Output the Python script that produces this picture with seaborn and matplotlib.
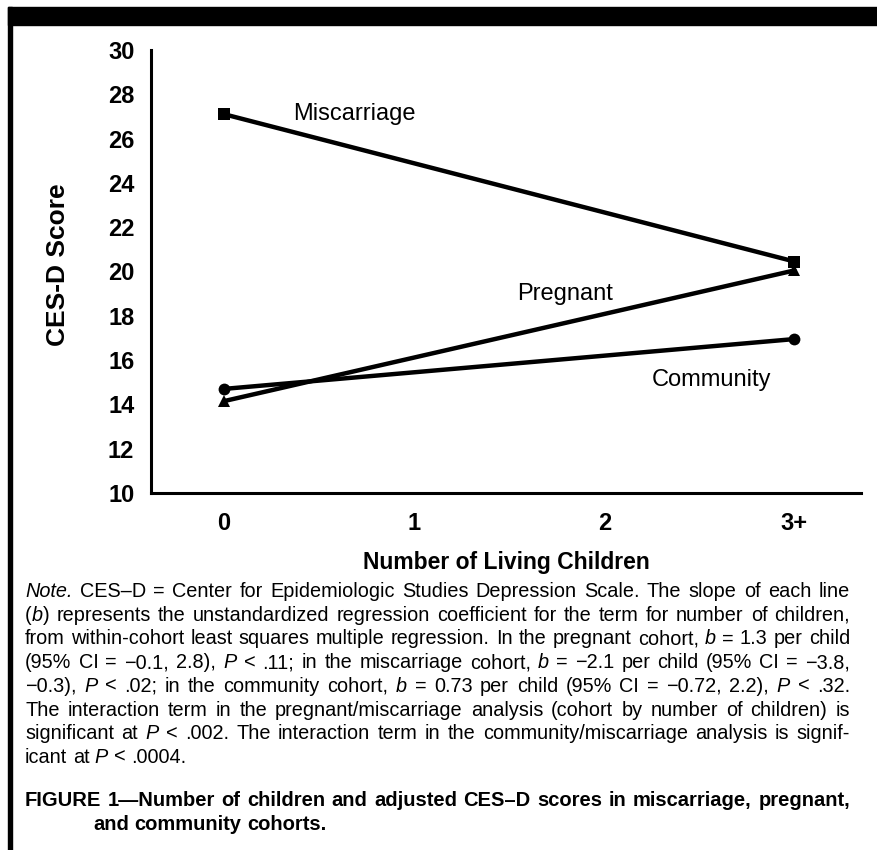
import matplotlib
matplotlib.use("Agg")
import matplotlib.pyplot as plt
from matplotlib import font_manager
from matplotlib.patches import Rectangle
import pandas as pd
import seaborn as sns

# ---- data -------------------------------------------------------------
cohorts = ["Miscarriage", "Pregnant", "Community"]
children_pos = [0, 3]                      # 0 children and "3+" children
tick_positions = [0, 1, 2, 3]
tick_labels = ["0", "1", "2", "3+"]
miscarriage_scores = [27.1, 20.45]
pregnant_scores = [14.15, 20.05]
community_scores = [14.7, 16.95]
y_ticks = [10, 12, 14, 16, 18, 20, 22, 24, 26, 28, 30]

rows = []
for name, vals in zip(cohorts, [miscarriage_scores, pregnant_scores, community_scores]):
    for x, v in zip(children_pos, vals):
        rows.append({"cohort": name, "children": x, "score": v})
df = pd.DataFrame(rows)

# ---- figure -----------------------------------------------------------
W, H = 877, 850
sns.set_theme(style="white")
plt.rcParams["font.family"] = ["Liberation Sans", "DejaVu Sans"]
plt.rcParams["text.color"] = "black"
plt.rcParams["axes.labelcolor"] = "black"
plt.rcParams["xtick.color"] = "black"
plt.rcParams["ytick.color"] = "black"

# condensed face for the note block, if present
narrow = "Liberation Sans"
try:
    font_manager.findfont(font_manager.FontProperties(family="Liberation Sans Narrow"),
                          fallback_to_default=False)
    narrow = "Liberation Sans Narrow"
except Exception:
    pass
note_family = [narrow, "DejaVu Sans"]

fig = plt.figure(figsize=(W / 100, H / 100), dpi=100)
fig.patch.set_facecolor("white")


def fx(px):
    return px / W


def fy(py):
    return 1 - py / H


# page frame: heavy rule on top, thin rule down the left side
fig.patches.append(Rectangle((fx(8), fy(25)), fx(W - 8), (25 - 7) / H,
                             transform=fig.transFigure, color="black", zorder=0))
fig.patches.append(Rectangle((fx(8), 0), fx(4), fy(7),
                             transform=fig.transFigure, color="black", zorder=0))

ax_l, ax_r, ax_t, ax_b = 151, 861, 50, 493
ax = fig.add_axes([fx(ax_l), fy(ax_b), fx(ax_r - ax_l), (ax_b - ax_t) / H])

sns.lineplot(data=df, x="children", y="score", hue="cohort", style="cohort",
             palette={c: "black" for c in cohorts},
             markers={"Miscarriage": "s", "Pregnant": "^", "Community": "o"},
             dashes=False, linewidth=3.2, markersize=8.5, markeredgewidth=0,
             legend=False, ax=ax)

ax.set_xlim(-0.385, 3.35)
ax.set_ylim(10, 30)
ax.set_xticks(tick_positions, tick_labels, fontweight="bold", fontsize=17)
ax.set_yticks(y_ticks, [str(t) for t in y_ticks], fontweight="bold", fontsize=17)
for side in ["top", "right"]:
    ax.spines[side].set_visible(False)
for side in ["left", "bottom"]:
    ax.spines[side].set_linewidth(2.2)
    ax.spines[side].set_color("black")
ax.tick_params(axis="both", direction="out", length=5, width=2, color="black",
               labelcolor="black")
ax.tick_params(axis="y", pad=7)
ax.tick_params(axis="x", pad=9)
ax.set_facecolor("white")

ax.set_xlabel("Number of Living Children", fontweight="bold", fontsize=16.5)
ax.set_ylabel("CES-D Score", fontweight="bold", fontsize=19)
ax.xaxis.set_label_coords(0.5, -(563 - ax_b) / (ax_b - ax_t))
ax.xaxis.label.set_va("center")
ax.yaxis.set_label_coords((58 - ax_l) / (ax_r - ax_l), (ax_b - 265) / (ax_b - ax_t))
ax.yaxis.label.set_va("center")

# series names written beside their lines
ax.text(0.684, 27.11, "Miscarriage", fontsize=17, ha="center", va="center")
ax.text(1.795, 18.98, "Pregnant", fontsize=17, ha="center", va="center")
ax.text(2.563, 15.1, "Community", fontsize=17, ha="center", va="center")

# ---- note and caption, set as justified paragraphs -----------------------
N, I = "normal", "italic"
note_lines = [
    [("Note.", I), (" CES\u2013D = Center for Epidemiologic Studies Depression Scale. The slope of each line", N)],
    [("(", N), ("b", I), (") represents the unstandardized regression coefficient for the term for number of children,", N)],
    [("from within-cohort least squares multiple regression. In the pregnant cohort, ", N), ("b", I), (" = 1.3 per child", N)],
    [("(95% CI = \u22120.1, 2.8), ", N), ("P", I), (" < .11; in the miscarriage cohort, ", N), ("b", I),
     (" = \u22122.1 per child (95% CI = \u22123.8,", N)],
    [("\u22120.3), ", N), ("P", I), (" < .02; in the community cohort, ", N), ("b", I),
     (" = 0.73 per child (95% CI = \u22120.72, 2.2), ", N), ("P", I), (" < .32.", N)],
    [("The interaction term in the pregnant/miscarriage analysis (cohort by number of children) is", N)],
    [("significant at ", N), ("P", I), (" < .002. The interaction term in the community/miscarriage analysis is signif-", N)],
    [("icant at ", N), ("P", I), (" < .0004.", N)],
]
caption_lines = [
    [("FIGURE 1\u2014Number of children and adjusted CES\u2013D scores in miscarriage, pregnant,", N)],
    [("and community cohorts.", N)],
]

renderer = fig.canvas.get_renderer()
text_left, text_right = 25, 850


def words_of(segments):
    words = [[]]
    for text, style in segments:
        parts = text.split(" ")
        for k, p in enumerate(parts):
            if k > 0:
                words.append([])
            if p:
                words[-1].append((p, style))
    return [w for w in words if w]


def width_of(s, style, size, weight):
    t = fig.text(0, 0, s, fontsize=size, style=style, fontweight=weight, family=note_family)
    w = t.get_window_extent(renderer).width
    t.remove()
    return w


def space_of(size, weight):
    return width_of("a a", N, size, weight) - width_of("aa", N, size, weight)


def natural(segments, size, weight):
    ws = words_of(segments)
    total = sum(width_of(p, st, size, weight) for w in ws for p, st in w)
    return total + space_of(size, weight) * (len(ws) - 1)


def draw_line(segments, x0, baseline, size, weight, justify, right=text_right):
    ws = words_of(segments)
    widths = [[width_of(p, st, size, weight) for p, st in w] for w in ws]
    ink = sum(sum(w) for w in widths)
    if justify and len(ws) > 1:
        gap = (right - x0 - ink) / (len(ws) - 1)
    else:
        gap = space_of(size, weight)
    x = x0
    for w, wl in zip(ws, widths):
        for (p, st), pw in zip(w, wl):
            fig.text(fx(x), fy(baseline), p, fontsize=size, style=st, family=note_family,
                     fontweight=weight, ha="left", va="baseline", color="black")
            x += pw
        x += gap


base = 12.0
widest = max(natural(l, base, "normal") for l in note_lines[:-1])
note_size = min(base * (text_right - text_left) * 0.99 / widest, 14.5)
note_base0, note_step = 597, 23.7
for i, line in enumerate(note_lines):
    draw_line(line, text_left, note_base0 + i * note_step, note_size, "normal",
              justify=(i < len(note_lines) - 1))

cap_nat = natural(caption_lines[0], base, "bold")
cap_size = min(base * (text_right - text_left) * 0.99 / cap_nat, 14.5)
draw_line(caption_lines[0], text_left, 806, cap_size, "bold", justify=True)
draw_line(caption_lines[1], 93, 830, cap_size, "bold", justify=False)

fig.savefig("out.png", dpi=100, facecolor="white")
